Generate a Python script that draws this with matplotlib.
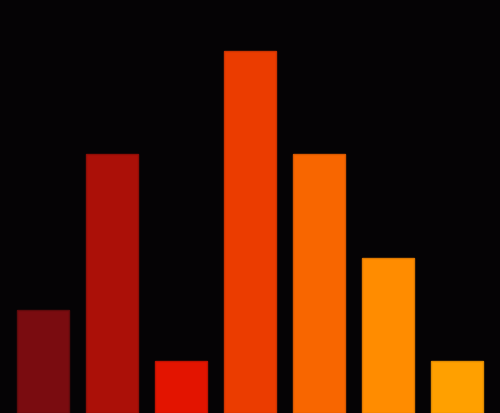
import matplotlib
matplotlib.use("Agg")
import matplotlib.pyplot as plt

labels = ["A", "B", "C", "D", "E", "F", "G"]
values = [2, 5, 1, 7, 5, 3, 1]
colors = ["#7a0c10", "#ab1008", "#e31400", "#eb3c00", "#f86600", "#ff8c00", "#ffa000"]
edges = ["#5e0a0c", "#8e0d06", "#c01100", "#cc3300", "#d85800", "#dd7800", "#e08a00"]

bg = "#050305"
fig = plt.figure(figsize=(5.0, 4.14), dpi=100, facecolor=bg)
ax = fig.add_axes([0, 0, 1, 1], facecolor=bg)

x = range(len(values))
ax.bar(x, values, width=0.75, color=colors, edgecolor=edges, linewidth=1)

ax.set_xlim(-0.623, 6.623)
ax.set_ylim(0, 8)
ax.axis("off")

fig.savefig("out.png", dpi=100, facecolor=bg)
